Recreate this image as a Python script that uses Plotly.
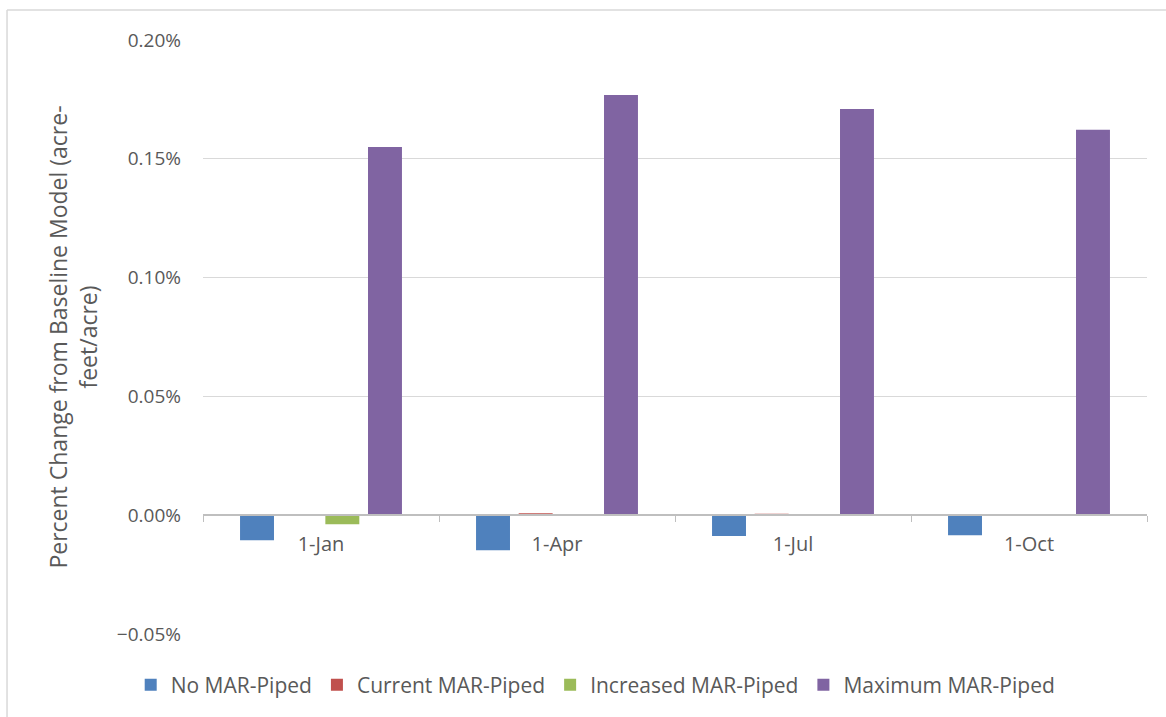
import plotly.graph_objects as go

# data (fractions, shown as percent)
dates = ["1-Jan", "1-Apr", "1-Jul", "1-Oct"]
no_mar = [-0.000105, -0.000147, -0.000088, -0.000084]
current_mar = [0.000005, 0.000008, 0.000006, 0.000005]
increased_mar = [-0.000038, 0.0, 0.000003, 0.000003]
maximum_mar = [0.00155, 0.001769, 0.00171, 0.001622]

series = [
    ("No MAR-Piped", no_mar, "#4f81bd"),
    ("Current MAR-Piped", current_mar, "#c0504d"),
    ("Increased MAR-Piped", increased_mar, "#9bbb59"),
    ("Maximum MAR-Piped", maximum_mar, "#8064a2"),
]

font_family = "Open Sans, Noto Sans, sans-serif"
grey_text = "#595959"

fig = go.Figure()
for name, vals, color in series:
    fig.add_trace(go.Bar(x=dates, y=vals, name=name, marker_color=color,
                         marker_line_width=0))

# plot area in pixels: x 203..1147, y 40..634
fig.update_layout(
    width=1166, height=717,
    margin=dict(l=203, r=19, t=40, b=83, autoexpand=False),
    paper_bgcolor="white", plot_bgcolor="white",
    barmode="group", bargap=0.277, bargroupgap=0.204,
    font=dict(family=font_family, size=18, color=grey_text),
    showlegend=True,
    legend=dict(orientation="h", x=0.416, xanchor="center", y=-0.086, yanchor="middle",
                font=dict(size=21, color=grey_text), itemwidth=30,
                traceorder="normal"),
)

fig.update_yaxes(
    range=[-0.0005, 0.002], dtick=0.0005, tickformat=".2%",
    showgrid=True, gridcolor="#d9d9d9", gridwidth=1,
    zeroline=False, showline=False, ticks="",
    ticklabelstandoff=21, automargin=False,
    title=dict(text="Percent Change from Baseline Model (acre-<br>feet/acre)",
               font=dict(size=23, color=grey_text), standoff=12),
    tickfont=dict(size=19, color=grey_text),
)

fig.update_xaxes(
    anchor="free", position=0.2, automargin=False,
    showline=True, linecolor="#bfbfbf", linewidth=1.5,
    ticks="outside", tickson="boundaries", ticklen=6, tickcolor="#bfbfbf",
    ticklabelstandoff=11,
    showgrid=False, tickfont=dict(size=20, color=grey_text),
)

# chart-area border (top and left edges visible in the reference)
fig.add_shape(type="line", xref="paper", yref="paper",
              x0=-0.2076, x1=1.0201, y0=1.0505, y1=1.0505,
              line=dict(color="#d9d9d9", width=1.5))
fig.add_shape(type="line", xref="paper", yref="paper",
              x0=-0.2076, x1=-0.2076, y0=-0.15, y1=1.0505,
              line=dict(color="#d9d9d9", width=1.5))

fig.write_html("out.html", config={"displayModeBar": False},
               post_script="document.body.style.margin='0px';")
